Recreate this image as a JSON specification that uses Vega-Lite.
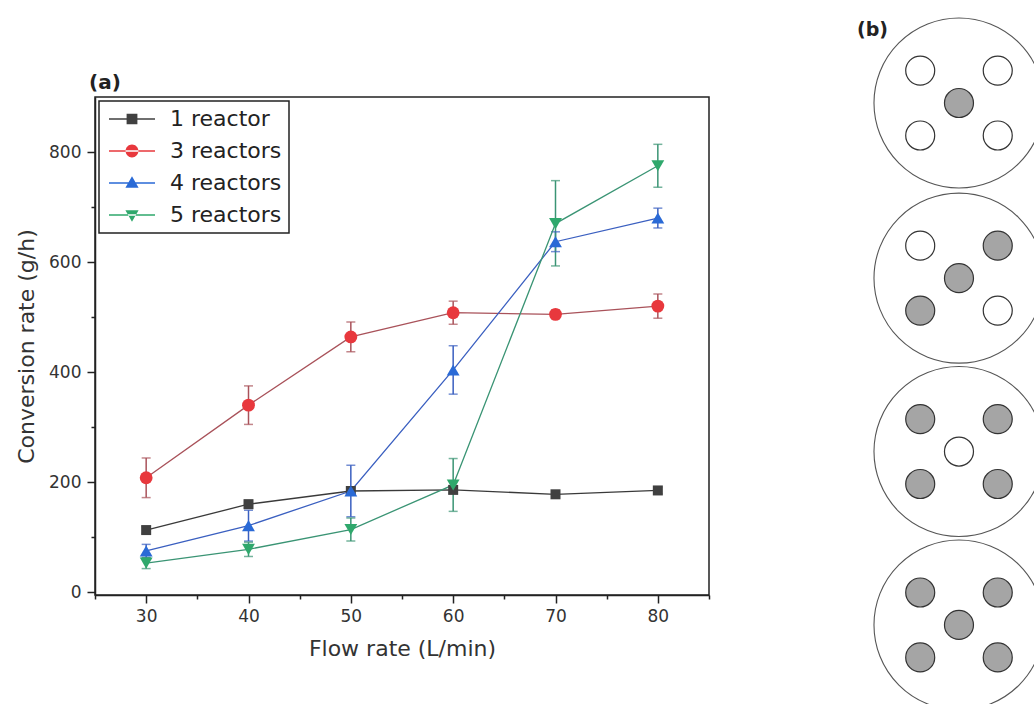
{
  "$schema": "https://vega.github.io/schema/vega-lite/v6.json",
  "padding": {"left": 14, "top": 0, "right": 0, "bottom": 0},
  "background": "white",
  "config": {
    "font": "DejaVu Sans",
    "view": {"stroke": null},
    "axis": {"labelFont": "DejaVu Sans", "titleFont": "DejaVu Sans", "labelColor": "#333", "titleColor": "#333", "domainColor": "#222", "tickColor": "#222", "domainWidth": 1.5, "tickWidth": 1.5, "grid": false, "titleFontWeight": "normal"},
    "legend": {"orient": "top-left", "offset": 4, "labelFontSize": 22, "labelFont": "DejaVu Sans", "labelColor": "#222", "symbolSize": 256, "symbolOpacity": 1, "labelOffset": 42, "rowPadding": 10, "padding": 7, "strokeColor": "#222", "strokeWidth": 1.5, "fillColor": "white", "symbolStrokeWidth": 0}
  },
  "datasets": {
    "conv": [
      {"series": "1 reactor", "flow": 30, "rate": 113, "lo": 107, "hi": 119},
      {"series": "1 reactor", "flow": 40, "rate": 160, "lo": 153, "hi": 167},
      {"series": "1 reactor", "flow": 50, "rate": 184, "lo": 178, "hi": 190},
      {"series": "1 reactor", "flow": 60, "rate": 186, "lo": 180, "hi": 192},
      {"series": "1 reactor", "flow": 70, "rate": 178, "lo": 172, "hi": 184},
      {"series": "1 reactor", "flow": 80, "rate": 185, "lo": 179, "hi": 191},
      {"series": "3 reactors", "flow": 30, "rate": 208, "lo": 172, "hi": 244},
      {"series": "3 reactors", "flow": 40, "rate": 340, "lo": 305, "hi": 375},
      {"series": "3 reactors", "flow": 50, "rate": 464, "lo": 437, "hi": 491},
      {"series": "3 reactors", "flow": 60, "rate": 508, "lo": 487, "hi": 529},
      {"series": "3 reactors", "flow": 70, "rate": 505, "lo": 497, "hi": 513},
      {"series": "3 reactors", "flow": 80, "rate": 520, "lo": 498, "hi": 542},
      {"series": "4 reactors", "flow": 30, "rate": 75, "lo": 63, "hi": 87},
      {"series": "4 reactors", "flow": 40, "rate": 121, "lo": 93, "hi": 149},
      {"series": "4 reactors", "flow": 50, "rate": 184, "lo": 137, "hi": 231},
      {"series": "4 reactors", "flow": 60, "rate": 404, "lo": 360, "hi": 448},
      {"series": "4 reactors", "flow": 70, "rate": 637, "lo": 619, "hi": 655},
      {"series": "4 reactors", "flow": 80, "rate": 680, "lo": 662, "hi": 698},
      {"series": "5 reactors", "flow": 30, "rate": 53, "lo": 43, "hi": 63},
      {"series": "5 reactors", "flow": 40, "rate": 78, "lo": 65, "hi": 91},
      {"series": "5 reactors", "flow": 50, "rate": 114, "lo": 93, "hi": 135},
      {"series": "5 reactors", "flow": 60, "rate": 195, "lo": 147, "hi": 243},
      {"series": "5 reactors", "flow": 70, "rate": 670, "lo": 593, "hi": 748},
      {"series": "5 reactors", "flow": 80, "rate": 775, "lo": 736, "hi": 814}
    ],
    "disks": [
      {"disk": 1, "x": 0, "y": 0},
      {"disk": 2, "x": 0, "y": 103},
      {"disk": 3, "x": 0, "y": 205},
      {"disk": 4, "x": 0, "y": 307}
    ],
    "holes": [
      {"disk": 1, "x": -22.8, "y": -19.1, "state": "white"},
      {"disk": 1, "x": 22.8, "y": -19.1, "state": "white"},
      {"disk": 1, "x": 0, "y": 0, "state": "gray"},
      {"disk": 1, "x": -22.8, "y": 19.1, "state": "white"},
      {"disk": 1, "x": 22.8, "y": 19.1, "state": "white"},
      {"disk": 2, "x": -22.8, "y": 83.9, "state": "white"},
      {"disk": 2, "x": 22.8, "y": 83.9, "state": "gray"},
      {"disk": 2, "x": 0, "y": 103, "state": "gray"},
      {"disk": 2, "x": -22.8, "y": 122.1, "state": "gray"},
      {"disk": 2, "x": 22.8, "y": 122.1, "state": "white"},
      {"disk": 3, "x": -22.8, "y": 185.9, "state": "gray"},
      {"disk": 3, "x": 22.8, "y": 185.9, "state": "gray"},
      {"disk": 3, "x": 0, "y": 205, "state": "white"},
      {"disk": 3, "x": -22.8, "y": 224.1, "state": "gray"},
      {"disk": 3, "x": 22.8, "y": 224.1, "state": "gray"},
      {"disk": 4, "x": -22.8, "y": 287.9, "state": "gray"},
      {"disk": 4, "x": 22.8, "y": 287.9, "state": "gray"},
      {"disk": 4, "x": 0, "y": 307, "state": "gray"},
      {"disk": 4, "x": -22.8, "y": 326.1, "state": "gray"},
      {"disk": 4, "x": 22.8, "y": 326.1, "state": "gray"}
    ]
  },
  "spacing": 131,
  "resolve": {"scale": {"color": "independent", "fill": "independent", "stroke": "independent", "shape": "independent"}, "legend": {"color": "independent", "shape": "independent", "fill": "independent", "stroke": "independent"}},
  "hconcat": [
    {
      "spacing": 0,
      "resolve": {"scale": {"color": "independent", "fill": "independent", "stroke": "independent", "shape": "independent"}, "legend": {"color": "independent", "shape": "independent", "fill": "independent", "stroke": "independent"}},
      "vconcat": [
        {
          "width": 10,
          "height": 72,
          "view": {"stroke": null},
          "data": {"values": [{}]},
          "mark": {"type": "point", "opacity": 0}
        },
        {
          "width": 614,
          "height": 498,
          "view": {"stroke": "#222", "strokeWidth": 1.5},
          "title": {"text": "(a)", "anchor": "start", "frame": "group", "fontSize": 20, "fontWeight": "bold", "font": "DejaVu Sans", "color": "#222", "offset": 4, "dx": -6},
          "data": {"name": "conv"},
          "encoding": {
            "x": {"field": "flow", "type": "quantitative", "scale": {"domain": [25, 85], "nice": false, "zero": false}, "axis": null},
            "y": {"field": "rate", "type": "quantitative", "scale": {"domain": [-5, 900], "nice": false, "zero": false}, "axis": null}
          },
          "layer": [
            {
              "mark": {"type": "point", "opacity": 0},
              "encoding": {
                "x": {"field": "flow", "type": "quantitative", "scale": {"domain": [25, 85], "nice": false, "zero": false}, "axis": {"orient": "bottom", "values": [25, 35, 45, 55, 65, 75, 85], "tickSize": 4, "labels": false, "domain": false, "title": null}},
                "y": {"field": "rate", "type": "quantitative", "scale": {"domain": [-5, 900], "nice": false, "zero": false}, "axis": {"orient": "left", "values": [100, 300, 500, 700], "tickSize": 4, "labels": false, "domain": false, "title": null}}
              }
            },
            {
              "mark": {"type": "point", "opacity": 0},
              "encoding": {
                "x": {"field": "flow", "type": "quantitative", "scale": {"domain": [25, 85], "nice": false, "zero": false}, "axis": {"orient": "bottom", "values": [30, 40, 50, 60, 70, 80], "tickSize": 8, "labelPadding": 5, "labelFontSize": 17, "title": "Flow rate (L/min)", "titleFontSize": 22, "titlePadding": 14}},
                "y": {"field": "rate", "type": "quantitative", "scale": {"domain": [-5, 900], "nice": false, "zero": false}, "axis": {"orient": "left", "values": [0, 200, 400, 600, 800], "tickSize": 8, "labelPadding": 6, "labelFontSize": 17, "title": "Conversion rate (g/h)", "titleFontSize": 22, "titlePadding": 10}}
              }
            },
            {
              "mark": {"type": "rule", "strokeWidth": 1.5},
              "encoding": {
                "y": {"field": "lo", "type": "quantitative", "scale": {"domain": [-5, 900], "nice": false, "zero": false}, "axis": null},
                "y2": {"field": "hi"},
                "stroke": {"field": "series", "type": "nominal", "scale": {"range": ["#3a3a3a", "#a9525a", "#3a5fc0", "#3a9474"]}, "legend": null}
              }
            },
            {
              "mark": {"type": "tick", "orient": "horizontal", "size": 9, "thickness": 1.5},
              "encoding": {
                "y": {"field": "lo", "type": "quantitative", "scale": {"domain": [-5, 900], "nice": false, "zero": false}, "axis": null},
                "fill": {"field": "series", "type": "nominal", "scale": {"range": ["#3a3a3a", "#a9525a", "#3a5fc0", "#3a9474"]}, "legend": null}
              }
            },
            {
              "mark": {"type": "tick", "orient": "horizontal", "size": 9, "thickness": 1.5},
              "encoding": {
                "y": {"field": "hi", "type": "quantitative", "scale": {"domain": [-5, 900], "nice": false, "zero": false}, "axis": null},
                "fill": {"field": "series", "type": "nominal", "scale": {"range": ["#3a3a3a", "#a9525a", "#3a5fc0", "#3a9474"]}, "legend": null}
              }
            },
            {
              "mark": {"type": "line", "strokeWidth": 1.3},
              "encoding": {
                "stroke": {"field": "series", "type": "nominal", "scale": {"range": ["#3a3a3a", "#a9525a", "#3a5fc0", "#3a9474"]}, "legend": null}
              }
            },
            {
              "transform": [{"filter": "datum.series === '1 reactor'"}],
              "mark": {"type": "point", "shape": "square", "filled": true, "color": "#404040", "size": 100, "opacity": 1}
            },
            {
              "transform": [{"filter": "datum.series === '3 reactors'"}],
              "mark": {"type": "point", "shape": "circle", "filled": true, "color": "#e8383d", "size": 165, "opacity": 1}
            },
            {
              "transform": [{"filter": "datum.series === '4 reactors'"}],
              "mark": {"type": "point", "shape": "triangle-up", "filled": true, "color": "#2a6ad6", "size": 165, "opacity": 1}
            },
            {
              "transform": [{"filter": "datum.series === '5 reactors'"}],
              "mark": {"type": "point", "shape": "triangle-down", "filled": true, "color": "#2fa86c", "size": 165, "opacity": 1}
            },
            {
              "mark": {"type": "point", "filled": true, "opacity": 0},
              "encoding": {
                "color": {"field": "series", "type": "nominal", "scale": {"domain": ["1 reactor", "3 reactors", "4 reactors", "5 reactors"], "range": ["#404040", "#e8383d", "#2a6ad6", "#2fa86c"]}, "legend": {"title": null}},
                "shape": {"field": "series", "type": "nominal", "scale": {"domain": ["1 reactor", "3 reactors", "4 reactors", "5 reactors"], "range": [
                  "M-1,-0.09H4.75V0.09H-1Z M1.2,-0.65H2.55V0.65H1.2Z",
                  "M-1,-0.09H4.75V0.09H-1Z M1.075,0A0.8,0.8 0 1,0 2.675,0A0.8,0.8 0 1,0 1.075,0Z",
                  "M-1,-0.09H4.75V0.09H-1Z M1.875,-0.85L2.7,0.6H1.05Z",
                  "M-1,-0.09H4.75V0.09H-1Z M1.875,0.85L2.7,-0.6H1.05Z"
                ]}, "legend": {"title": null}}
              }
            }
          ],
          "resolve": {"axis": {"x": "independent", "y": "independent"}}
        }
      ]
    },
    {
      "width": 194,
      "height": 704,
      "view": {"stroke": null},
      "title": {"text": "(b)", "anchor": "start", "frame": "group", "fontSize": 19, "fontWeight": "bold", "font": "DejaVu Sans", "color": "#222", "offset": -40, "dx": 15},
      "layer": [
        {
          "data": {"name": "disks"},
          "mark": {"type": "point", "shape": "circle", "filled": true, "fill": "white", "stroke": "#555", "strokeWidth": 1.1, "size": 28900, "clip": true, "opacity": 1},
          "encoding": {
            "x": {"field": "x", "type": "quantitative", "scale": {"domain": [-68.8, 45.3], "nice": false, "zero": false}, "axis": null},
            "y": {"field": "y", "type": "quantitative", "scale": {"domain": [-60.6, 353.5], "nice": false, "zero": false, "reverse": true}, "axis": null}
          }
        },
        {
          "data": {"name": "holes"},
          "mark": {"type": "point", "shape": "circle", "filled": true, "stroke": "#333", "strokeWidth": 1.2, "size": 841, "clip": true, "opacity": 1},
          "encoding": {
            "x": {"field": "x", "type": "quantitative", "scale": {"domain": [-68.8, 45.3], "nice": false, "zero": false}, "axis": null},
            "y": {"field": "y", "type": "quantitative", "scale": {"domain": [-60.6, 353.5], "nice": false, "zero": false, "reverse": true}, "axis": null},
            "fill": {"field": "state", "type": "nominal", "scale": {"domain": ["gray", "white"], "range": ["#a5a5a5", "#ffffff"]}, "legend": null}
          }
        }
      ]
    }
  ]
}
